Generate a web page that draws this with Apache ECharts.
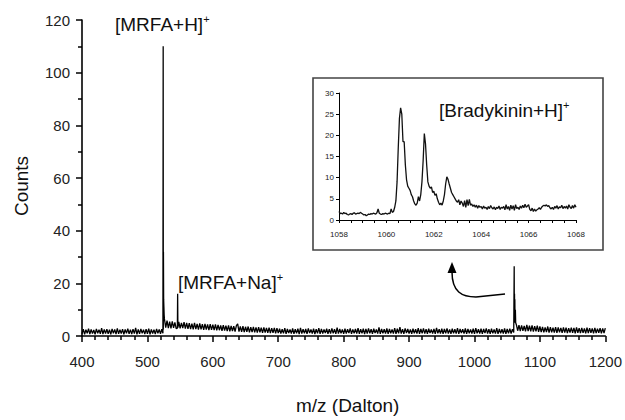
<!DOCTYPE html>
<html><head><meta charset="utf-8">
<script src="https://cdn.jsdelivr.net/npm/echarts@6/dist/echarts.min.js"></script>
<style>html,body{margin:0;padding:0;background:#fff}#c{width:625px;height:420px}</style>
</head><body><div id="c"></div>
<script>
// ---- main spectrum: baseline noise sampled every 2 Da starting at 400 ----
const mainStart = 400;
const mainStep = 2;
const mainNoise = [
  0.8,2.6,0.6,2.4,1.0,2.8,0.7,2.5,0.9,2.3,
  0.6,2.7,1.0,2.4,0.8,3.0,0.7,2.5,0.9,2.6,
  0.8,2.4,0.6,2.7,1.0,2.5,0.7,2.9,0.8,2.4,
  0.9,2.6,0.6,2.5,1.0,2.8,0.8,2.4,0.7,2.6,
  0.9,3.1,0.6,2.5,0.8,2.7,1.0,2.4,0.7,2.6,
  0.8,2.8,0.6,2.5,0.9,2.4,0.7,2.7,1.0,2.5,
  0.8,2.6,
  1.2,
  6.5,3.2,5.8,3.0,5.5,2.9,5.6,3.1,5.2,2.8,3.0,5.4,2.9,5.0,3.0,5.3,2.8,5.0,
  2.7,4.9,2.6,4.7,2.5,5.0,2.6,4.6,2.4,4.8,
  2.5,4.5,2.3,4.6,2.4,4.4,2.2,4.5,2.3,4.3,
  2.2,4.4,2.1,4.2,2.2,4.0,2.0,4.1,2.1,3.9,
  1.9,4.0,1.8,3.8,1.9,3.7,1.7,3.9,4.6,1.7,
  3.6,1.6,3.7,1.5,3.5,1.6,3.6,1.4,3.4,1.5,
  3.5,1.4,3.3,1.3,3.4,1.4,3.2,1.2,3.3,1.3,
  3.1,1.2,3.2,1.1,3.0,1.2,3.1,1.0,3.0,1.1,
  2.8,0.9,2.6,1.0,3.0,0.8,2.7,1.1,2.5,0.9,
  2.9,0.8,2.6,1.0,2.8,0.7,3.1,0.9,2.6,1.0,
  2.7,0.8,2.9,1.1,2.5,0.9,2.8,0.7,2.6,1.0,
  3.0,0.8,2.7,0.9,2.5,1.1,2.8,0.8,2.6,0.9,
  2.9,1.0,2.6,0.8,3.2,0.9,2.7,1.0,2.5,0.8,
  2.8,0.9,2.6,1.1,2.9,0.8,2.5,1.0,2.7,0.9,
  3.0,0.8,2.6,1.0,2.8,0.7,2.7,0.9,2.9,1.0,
  2.6,0.8,2.8,1.1,2.5,0.9,3.3,0.8,2.7,1.0,
  2.6,0.9,2.9,0.8,2.7,1.0,2.5,0.9,3.0,0.8,
  2.8,1.0,3.4,0.9,2.6,0.8,2.9,1.1,2.7,0.9,
  2.5,0.8,2.8,1.0,2.6,0.9,3.0,0.8,2.7,1.0,
  2.9,0.9,2.6,0.8,2.8,1.1,2.5,0.9,2.7,0.8,
  3.1,1.0,2.6,0.9,2.8,0.8,2.7,1.0,2.9,0.9,
  2.5,0.8,2.8,1.0,2.6,0.9,3.0,0.8,2.7,1.1,
  2.6,0.9,2.9,0.8,2.7,1.0,2.5,0.9,2.8,0.8,
  3.0,1.0,2.6,0.9,2.8,0.8,2.7,1.1,2.9,0.9,
  2.6,0.8,2.8,1.0,2.5,0.9,3.0,0.8,2.7,1.0,
  2.6,0.9,2.9,0.8,2.7,1.0,2.8,0.9,2.6,
  1.3,
  6.0,
  4.3,2.0,4.1,1.9,4.0,2.0,3.8,1.8,4.2,1.9,
  3.9,1.8,4.0,1.7,3.7,1.8,3.9,1.6,3.6,
  1.5,3.5,1.4,3.3,1.5,3.6,1.3,3.4,1.4,3.2,
  1.3,3.4,1.2,3.3,1.4,3.1,1.2,3.3,1.3,3.2,
  1.1,3.0,1.3,3.2,1.2,3.1,1.0,3.3,1.2,3.0,
  1.1,3.1,1.2,2.9,1.0,3.2,1.1,3.0,1.2,2.9,
  1.0,3.1,1.1,2.8,1.2,3.0,1.0,2.9,1.1,3.0
];
// ---- main spectrum: peak points [m/z, counts] ----
const mainPeaks = [
  [523.7,1.0],[524.1,110],[524.3,2.5],[524.5,32],[524.8,14],[525.2,11],[525.6,8],
  [545.8,3.0],[546.2,16],[546.6,3.2],
  [1060.4,1.5],[1060.7,26.5],[1060.9,8],[1061.2,16],[1061.4,5],[1061.7,14],[1062.5,10],[1063.0,5]
];
// ---- inset: Bradykinin region, every 0.05 Da starting at 1058 ----
const insetStart = 1058;
const insetStep = 0.05;
const insetValues = [
  2.0,1.5,1.6,1.4,1.8,1.5,1.6,1.3,1.2,1.4, 1.5,1.3,1.6,1.7,1.4,1.5,1.6,1.5,1.8,1.6,
  1.4,1.2,1.3,1.0,1.2,1.4,1.3,1.5,1.4,1.6, 1.5,1.4,1.7,2.6,1.6,1.4,1.3,1.5,1.4,1.6,
  1.5,1.4,1.6,1.5,2.6,1.8,2.0,3.0,4.5,9.0, 17,24,26.5,25,18.5,18.5,13,9.5,8.0,7.5,
  7.0,6.0,5.5,4.5,3.8,3.5,4.0,5.5,4.5,6.0, 9.0,14,20.4,18,13,9,8,7.5,7.8,6.5,
  6.8,5.8,6.2,5.0,4.2,3.6,4.0,3.5,4.5,6.0, 8.5,10.2,9.6,8.5,7.5,6.5,6.0,5.5,5.0,4.5,
  4.2,4.8,3.6,4.5,4.0,3.2,4.6,3.0,4.8,3.4, 4.9,3.5,3.8,3.2,3.6,3.0,3.5,2.8,3.4,3.0,
  3.2,2.6,3.3,2.8,3.0,2.5,3.2,2.7,3.4,2.9, 2.6,3.1,2.4,3.0,2.7,3.3,2.5,3.0,2.8,3.2,
  2.4,3.6,2.6,3.2,2.3,3.5,2.6,3.4,2.3,3.6, 2.7,3.0,2.5,3.3,2.8,3.5,2.9,3.7,3.0,3.3,
  3.6,2.5,2.2,2.8,2.0,2.6,2.1,2.4,2.6,2.9, 2.5,3.0,3.3,3.5,3.3,3.6,3.2,3.4,2.9,2.6,
  3.0,2.5,3.2,2.8,3.4,2.6,3.1,2.9,3.5,2.7, 3.2,2.8,3.3,2.6,3.6,3.0,2.7,3.4,2.8,3.6,
  3.0
];
// ---- axes ----
const mainXRange = [400, 1200, 100];
const mainYRange = [0, 120, 20];
const insetXRange = [1058, 1068, 2];
const insetYRange = [0, 30, 5];
const labels = {
  h: '[MRFA+H]',
  na: '[MRFA+Na]',
  brady: '[Bradykinin+H]'
};

const mainData = mainNoise.map((v, i) => [+(mainStart + i * mainStep).toFixed(2), v])
  .concat(mainPeaks).sort((a, b) => a[0] - b[0]);
const insetData = insetValues.map((v, i) => [+(insetStart + i * insetStep).toFixed(2), v]);

const FONT = 'Liberation Sans, Arial, Helvetica, sans-serif';
const plain = v => String(v);
const rich = {
  a: { fontSize: 19, fontFamily: FONT, fontWeight: 'normal', color: '#111', lineHeight: 22 },
  s: { fontSize: 11, fontFamily: FONT, fontWeight: 'normal', color: '#111', lineHeight: 16, verticalAlign: 'top' }
};
function lbl(t, left, top) {
  return { text: '{a|' + t + '}{s|+}', left: left, top: top, padding: 0, itemGap: 0,
    textStyle: { fontWeight: 'normal', rich: rich } };
}

const chart = echarts.init(document.getElementById('c'), null, { renderer: 'svg' });
chart.setOption({
  animation: false,
  backgroundColor: '#fff',
  title: [lbl(labels.h, 115, 13), lbl(labels.na, 178, 271), lbl(labels.brady, 439, 99)],
  grid: [
    { left: 82, right: 18, top: 20, bottom: 83 },
    { left: 339, top: 93, width: 237, height: 127 }
  ],
  xAxis: [
    { gridIndex: 0, type: 'value', min: mainXRange[0], max: mainXRange[1], interval: mainXRange[2],
      name: 'm/z (Dalton)', nameLocation: 'middle', nameGap: 60,
      nameTextStyle: { fontSize: 19, fontFamily: FONT, color: '#111', padding: [0, 0, 0, 8] },
      axisLine: { lineStyle: { color: '#000', width: 1.6 } },
      axisTick: { show: true, inside: false, length: 6, lineStyle: { color: '#000', width: 1.5 } },
      minorTick: { show: true, splitNumber: 5, length: 4, lineStyle: { color: '#000', width: 1.5 } },
      axisLabel: { fontSize: 15, fontFamily: FONT, color: '#222', margin: 18, formatter: plain },
      splitLine: { show: false } },
    { gridIndex: 1, type: 'value', min: insetXRange[0], max: insetXRange[1], interval: insetXRange[2],
      axisLine: { lineStyle: { color: '#000', width: 1 } },
      axisTick: { show: true, length: 3, lineStyle: { color: '#000', width: 1 } },
      minorTick: { show: true, splitNumber: 4, length: 3, lineStyle: { color: '#000', width: 1 } },
      axisLabel: { fontSize: 8, fontFamily: FONT, color: '#222', margin: 10, formatter: plain },
      splitLine: { show: false } }
  ],
  yAxis: [
    { gridIndex: 0, type: 'value', min: mainYRange[0], max: mainYRange[1], interval: mainYRange[2],
      name: 'Counts', nameLocation: 'middle', nameGap: 51,
      nameTextStyle: { fontSize: 19, fontFamily: FONT, color: '#111', padding: [0, 16, 0, 0] },
      axisLine: { show: true, lineStyle: { color: '#000', width: 1.6 } },
      axisTick: { show: true, length: 6, lineStyle: { color: '#000', width: 1.5 } },
      minorTick: { show: true, splitNumber: 2, length: 4, lineStyle: { color: '#000', width: 1.5 } },
      axisLabel: { fontSize: 15, fontFamily: FONT, color: '#222', margin: 12, formatter: plain },
      splitLine: { show: false } },
    { gridIndex: 1, type: 'value', min: insetYRange[0], max: insetYRange[1], interval: insetYRange[2],
      axisLine: { show: true, lineStyle: { color: '#000', width: 1 } },
      axisTick: { show: true, length: 3, lineStyle: { color: '#000', width: 1 } },
      axisLabel: { fontSize: 8, fontFamily: FONT, color: '#222', margin: 5, formatter: plain },
      splitLine: { show: false } }
  ],
  series: [
    { type: 'line', xAxisIndex: 0, yAxisIndex: 0, data: mainData, symbol: 'none', silent: true,
      lineStyle: { color: '#000', width: 1.3 } },
    { type: 'line', xAxisIndex: 1, yAxisIndex: 1, data: insetData, symbol: 'none', silent: true,
      lineStyle: { color: '#111', width: 1.3 } }
  ],
  graphic: [
    { type: 'rect', silent: true, shape: { x: 313, y: 78, width: 290, height: 172 },
      style: { fill: 'transparent', stroke: '#444', lineWidth: 1.6 } },
    { type: 'line', silent: true, shape: { x1: 505, y1: 294, x2: 476, y2: 297 },
      style: { stroke: '#000', lineWidth: 1.5 } },
    { type: 'bezierCurve', silent: true,
      shape: { x1: 476, y1: 297, cpx1: 462, cpy1: 297, cpx2: 452, cpy2: 292, x2: 452, y2: 272 },
      style: { fill: 'transparent', stroke: '#000', lineWidth: 1.5 } },
    { type: 'polygon', silent: true, shape: { points: [[452, 262], [447.5, 273], [456.5, 273]] },
      style: { fill: '#000' } }
  ]
});
</script>
</body></html>
